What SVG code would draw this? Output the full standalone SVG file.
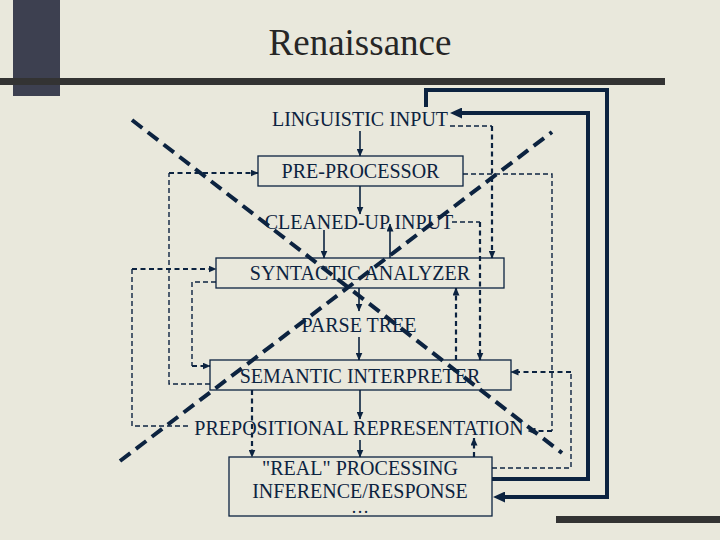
<svg xmlns="http://www.w3.org/2000/svg" width="720" height="540" viewBox="0 0 720 540">
<style>
  .t { font-family: "Liberation Serif", "Times New Roman", "DejaVu Serif", serif; font-size: 20px; fill: #0c2340; text-anchor: middle; }
  .box { fill: none; stroke: #0c2340; stroke-width: 1.3; }
  .s { fill: none; stroke: #0c2340; stroke-width: 1.6; }
  .dt { fill: none; stroke: #0c2340; stroke-width: 1.4; stroke-dasharray: 5 3; }
  .db { fill: none; stroke: #0c2340; stroke-width: 2.2; stroke-dasharray: 5 3.5; }
  .thick { fill: none; stroke: #0c2340; stroke-width: 4; }
  .x { fill: none; stroke: #0c2340; stroke-width: 4; stroke-dasharray: 13 7; }
</style>
<defs>
  <marker id="a" viewBox="0 0 8 7" refX="7.5" refY="3.5" markerWidth="8" markerHeight="7" markerUnits="userSpaceOnUse" orient="auto">
    <path d="M0,0 L8,3.5 L0,7 z" fill="#0c2340"/>
  </marker>
  <marker id="ab" viewBox="0 0 12 11" refX="3" refY="5.5" markerWidth="12" markerHeight="11" markerUnits="userSpaceOnUse" orient="auto">
    <path d="M0,0 L12,5.5 L0,11 z" fill="#0c2340"/>
  </marker>
</defs>
<rect x="0" y="0" width="720" height="540" fill="#e9e8dc"/>
<g id="decor">
  <rect x="13" y="0" width="47" height="96" fill="#3d4050"/>
  <rect x="0" y="78" width="665" height="7" fill="#333333"/>
  <rect x="556" y="516" width="164" height="7" fill="#333333"/>
</g>
<text id="title" x="360" y="55" font-family="Liberation Serif, Times New Roman, serif" font-size="37" fill="#262626" text-anchor="middle">Renaissance</text>

<g id="connectors">
  <path class="s" d="M360,131 V156" marker-end="url(#a)"/>
  <path class="s" d="M360,186 V214" marker-end="url(#a)"/>
  <path class="s" d="M324,230 V258" marker-end="url(#a)"/>
  <path class="s" d="M390,258 V224" marker-end="url(#a)"/>
  <path class="s" d="M359,288 V311" marker-end="url(#a)"/>
  <path class="s" d="M359,337 V360" marker-end="url(#a)"/>
  <path class="s" d="M360,390 V419" marker-end="url(#a)"/>
  <path class="s" d="M360,440 V457" marker-end="url(#a)"/>
  <path class="dt" d="M450,126 H492"/>
  <path class="db" d="M492,126 V258" marker-end="url(#a)"/>
  <path class="dt" d="M463,174 H552 V431"/>
  <path class="db" d="M552,431 H528" marker-end="url(#a)"/>
  <path class="dt" d="M452,222 H480"/>
  <path class="db" d="M480,222 V360" marker-end="url(#a)"/>
  <path class="db" d="M456,360 V288" marker-end="url(#a)"/>
  <path class="dt" d="M492,468 H571 V372"/>
  <path class="db" d="M571,372 H511" marker-end="url(#a)"/>
  <path class="db" d="M252,390 V457" marker-end="url(#a)"/>
  <path class="db" d="M474,457 V438" marker-end="url(#a)"/>
  <path class="dt" d="M188,426 H132 V269"/>
  <path class="db" d="M132,269 H216" marker-end="url(#a)"/>
  <path class="dt" d="M216,282 H192 V366"/>
  <path class="db" d="M192,366 H210" marker-end="url(#a)"/>
  <path class="dt" d="M210,384 H169 V173"/>
  <path class="db" d="M169,173 H258" marker-end="url(#a)"/>
  <path class="thick" d="M426,107 V90 H607 V497 H502" marker-end="url(#ab)"/>
  <path class="thick" d="M492,479 H588 V113 H459" marker-end="url(#ab)"/>
  <path class="x" d="M132,120 L562,453"/>
  <path class="x" d="M120,461 L552,132"/>
</g>

<g id="linguistic-input"><text class="t" x="360" y="126">LINGUISTIC INPUT</text></g>
<g id="pre-processor"><rect class="box" x="258" y="156" width="205" height="30"/><text class="t" x="360.5" y="178">PRE-PROCESSOR</text></g>
<g id="cleaned-up-input"><text class="t" x="359" y="229">CLEANED-UP INPUT</text></g>
<g id="syntactic-analyzer"><rect class="box" x="216" y="258" width="288" height="30"/><text class="t" x="360" y="280">SYNTACTIC ANALYZER</text></g>
<g id="parse-tree"><text class="t" x="359" y="332">PARSE TREE</text></g>
<g id="semantic-interpreter"><rect class="box" x="210" y="360" width="301" height="30"/><text class="t" x="360" y="383">SEMANTIC INTERPRETER</text></g>
<g id="prepositional-representation"><text class="t" x="359" y="435">PREPOSITIONAL REPRESENTATION</text></g>
<g id="real-processing"><rect class="box" x="229" y="457" width="263" height="59"/><text class="t" x="360" y="475">"REAL" PROCESSING</text><text class="t" x="360" y="498">INFERENCE/RESPONSE</text><text class="t" x="360" y="513" style="font-size:18px">…</text></g>
</svg>
